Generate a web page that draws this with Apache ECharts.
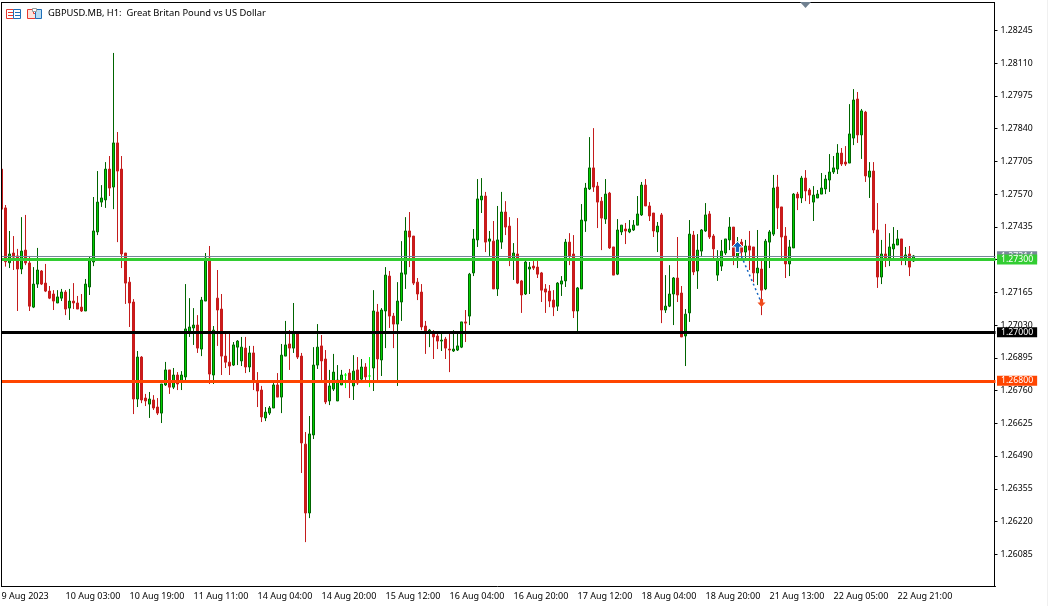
<!DOCTYPE html>
<html>
<head>
<meta charset="utf-8">
<title>GBPUSD.MB H1</title>
<style>
  html, body { margin: 0; padding: 0; background: #fff; }
  #main { width: 1048px; height: 606px; }
</style>
<script src="https://cdn.jsdelivr.net/npm/echarts@6/dist/echarts.min.js"></script>
</head>
<body>
<div id="main"></div>
<script>
// prices in points (1 point = 0.00001), one row = 16 hourly bars
const opens = [
  127673,127513,127287,127327,127315,127261,127339,127286,127104,127199,127253,127203,127170,127158,127121,127141,
  127166,127100,127129,127121,127104,127088,127187,127290,127414,127537,127546,127673,127599,127781,127673,127327,
  127207,127125,126725,126898,126729,126704,126721,126692,126667,126783,126845,126774,126824,126795,126816,127001,
  127018,127030,126931,127129,127306,126824,127141,127096,126902,126877,126865,126939,126882,126935,126857,126915,
  126795,126762,126647,126667,126688,126783,126733,126902,126952,126935,126997,126902,126539,126255,126577,126865,
  126944,126890,126717,126766,126717,126783,126824,126832,126779,126845,126807,126857,126820,126853,127084,126886,
  127088,127232,127067,127034,127125,127240,127418,127397,127207,127166,127026,127005,127001,126985,126964,126972,
  126931,126923,126927,126939,127043,127067,127245,127381,127546,127562,127376,127376,127179,127372,127496,127438,
  127298,127323,127212,127158,127261,127273,127269,127245,127179,127170,127133,127108,127199,127212,127372,127323,
  127088,127179,127459,127591,127678,127603,127541,127467,127574,127352,127240,127414,127426,127414,127422,127442,
  127484,127607,127521,127492,127414,127484,127092,127108,127158,127224,127162,126985,127080,127401,127253,127335,
  127418,127488,127397,127236,127273,127327,127381,127434,127310,127372,127331,127356,127352,127245,127261,127179,
  127372,127405,127599,127517,127397,127282,127348,127570,127554,127636,127587,127537,127554,127570,127591,127628,
  127661,127673,127739,127702,127698,127801,127962,127814,127908,127640,127665,127422,127228,127323,127306,127344,
  127360,127385,127306,127323,127294
];
const closes = [
  127508,127291,127323,127310,127261,127335,127286,127108,127199,127257,127199,127170,127141,127129,127146,127166,
  127096,127129,127121,127096,127088,127199,127298,127418,127537,127554,127673,127595,127781,127665,127323,127203,
  127121,126725,126898,126721,126717,126725,126688,126667,126787,126845,126774,126824,126787,126824,127014,127022,
  127030,126935,127133,127306,126828,127009,127092,126902,126877,126861,126948,126964,126939,126857,126915,126795,
  126758,126651,126671,126688,126783,126733,126906,126948,126935,127001,126898,126544,126255,126581,126865,126939,
  126882,126713,126779,126836,126803,126824,126824,126803,126840,126791,126857,126816,126820,127088,126890,127092,
  127236,127067,127034,127129,127245,127418,127393,127203,127158,127022,127005,127009,126981,126964,126968,126935,
  126927,126931,126944,127043,127038,127240,127385,127550,127562,127372,127385,127179,127381,127496,127434,127306,
  127327,127203,127154,127290,127269,127265,127240,127174,127166,127129,127104,127203,127212,127372,127315,127088,
  127183,127463,127595,127678,127599,127537,127471,127570,127348,127236,127422,127442,127418,127426,127442,127488,
  127607,127521,127480,127418,127438,127092,127108,127158,127224,127154,126981,127075,127405,127249,127339,127422,
  127484,127393,127344,127302,127335,127385,127434,127315,127372,127331,127356,127339,127245,127265,127174,127376,
  127414,127595,127513,127393,127282,127352,127570,127554,127636,127583,127566,127566,127570,127595,127632,127661,
  127678,127739,127694,127694,127818,127958,127814,127913,127645,127665,127422,127228,127323,127306,127352,127364,
  127385,127306,127319,127269,127315
];
const highs = [
  127673,127525,127418,127397,127344,127475,127484,127315,127269,127348,127257,127282,127191,127174,127174,127179,
  127174,127179,127203,127150,127158,127220,127311,127558,127665,127607,127702,127727,128152,127826,127727,127327,
  127228,127137,126923,126902,126746,126754,126741,126729,126787,126878,126845,126853,126836,126840,127199,127141,
  127100,127071,127146,127327,127356,127026,127257,127158,127002,126997,126960,126968,126981,126981,126944,126944,
  126836,126779,126692,126696,126795,126832,126952,127047,127009,127121,127005,126915,126589,126655,126939,127034,
  126989,126927,126845,126911,126865,126845,126832,126849,126906,126898,126890,126873,126898,127174,127117,127100,
  127269,127253,127080,127207,127376,127475,127496,127397,127224,127199,127047,127014,127009,127001,127001,126981,
  126997,127009,126997,127043,127092,127245,127426,127632,127636,127579,127418,127459,127521,127579,127541,127475,
  127368,127471,127216,127298,127290,127294,127298,127249,127199,127195,127174,127207,127232,127385,127409,127401,
  127187,127529,127616,127805,127842,127620,127558,127632,127579,127352,127467,127442,127451,127463,127463,127562,
  127620,127632,127537,127492,127455,127492,127236,127277,127228,127393,127191,127096,127463,127418,127405,127426,
  127533,127500,127405,127339,127381,127385,127475,127434,127393,127385,127381,127418,127352,127422,127298,127385,
  127422,127649,127649,127517,127434,127381,127574,127579,127645,127669,127595,127603,127587,127657,127649,127735,
  127727,127776,127760,127768,127941,128003,127991,127921,127913,127702,127702,127533,127381,127447,127409,127434,
  127422,127385,127352,127356,127319
];
const lows = [
  127508,127271,127265,127257,127088,127240,127277,127088,127100,127183,127195,127166,127137,127092,127121,127129,
  127071,127051,127096,127096,127084,127088,127154,127273,127401,127517,127513,127562,127508,127372,127265,127117,
  127022,126663,126692,126708,126696,126647,126680,126659,126626,126779,126746,126766,126762,126762,126795,126981,
  126948,126915,126902,127129,126787,126787,126944,126824,126853,126824,126861,126865,126861,126832,126836,126762,
  126692,126630,126634,126659,126688,126733,126667,126902,126845,126915,126890,126420,126135,126234,126560,126849,
  126803,126704,126700,126758,126717,126783,126770,126729,126721,126783,126791,126803,126774,126758,126791,126820,
  126935,127018,126935,126779,127047,127179,127269,127195,127133,127009,126911,126939,126890,126931,126923,126890,
  126836,126919,126923,126935,126960,127030,127232,127352,127492,127331,127315,127179,127150,127344,127401,127273,
  127216,127199,127080,127154,127158,127257,127224,127125,127080,127104,127067,127088,127150,127187,127277,127059,
  127005,127179,127414,127587,127579,127430,127339,127447,127344,127236,127236,127401,127364,127409,127418,127442,
  127480,127521,127459,127393,127331,127038,127080,127104,127030,127125,126981,126861,127043,127236,127179,127315,
  127414,127385,127302,127212,127253,127319,127339,127277,127265,127298,127298,127257,127207,127195,127071,127174,
  127265,127397,127426,127306,127224,127232,127348,127504,127533,127541,127529,127459,127554,127570,127570,127579,
  127653,127653,127686,127686,127698,127772,127781,127715,127620,127554,127409,127183,127199,127269,127273,127306,
  127360,127277,127277,127232,127290
];

// every 16th bar carries a time label
const timeLabels = ['9 Aug 2023','10 Aug 03:00','10 Aug 19:00','11 Aug 11:00','14 Aug 04:00','14 Aug 20:00',
  '15 Aug 12:00','16 Aug 04:00','16 Aug 20:00','17 Aug 12:00','18 Aug 04:00','18 Aug 20:00',
  '21 Aug 13:00','22 Aug 05:00','22 Aug 21:00'];
const barsPerLabel = 16;
const shiftBars = 20; // empty space right of the last bar

const priceTicks = [1.26085,1.26220,1.26355,1.26490,1.26625,1.26760,1.26895,1.27030,1.27165,1.27300,
  1.27435,1.27570,1.27705,1.27840,1.27975,1.28110,1.28245];

const lastPrice = 1.27314;
const levelGreen = 1.27300;
const levelBlack = 1.27000;
const levelOrange = 1.26800;

// entry and exit of the trade: bar index, price
const tradeFrom = [184, 1.27352];
const tradeTo = [190, 1.27121];

const candles = opens.map((o, i) => [o / 1e5, closes[i] / 1e5, lows[i] / 1e5, highs[i] / 1e5]);
const categories = [];
for (let i = 0; i < opens.length + shiftBars; i++) {
  categories.push(i % barsPerLabel === 0 ? (timeLabels[i / barsPerLabel] || '') : String(i));
}
const hasLabel = idx => idx % barsPerLabel === 0 && idx < opens.length;

const axisFont = 'Noto Sans';

function level(value, color) {
  return {
    yAxis: value,
    lineStyle: { color: color, width: 3, type: 'solid' },
    label: {
      show: true, position: 'end', distance: 1.5,
      formatter: value.toFixed(5),
      color: '#fff', backgroundColor: color,
      fontFamily: axisFont, fontSize: 8.7, lineHeight: 10,
      padding: [0, 4, 0, 4]
    }
  };
}
const lastLine = level(lastPrice, '#778899');
lastLine.lineStyle.width = 1;

const chart = echarts.init(document.getElementById('main'));
chart.setOption({
  animation: false,
  backgroundColor: '#fff',
  title: {
    text: 'GBPUSD.MB, H1:  Great Britan Pound vs US Dollar',
    left: 48, top: 9, padding: 0,
    textStyle: { fontFamily: axisFont, fontSize: 9.35, fontWeight: 'normal', color: '#000' }
  },
  grid: { left: -0.5, top: 2.5, width: 996, height: 584, outerBoundsMode: 'none' },
  xAxis: {
    type: 'category',
    data: categories,
    axisLine: { lineStyle: { color: '#000', width: 1 } },
    axisTick: { alignWithLabel: true, length: 4, interval: hasLabel, lineStyle: { color: '#000' } },
    axisLabel: {
      interval: hasLabel, hideOverlap: false, align: 'left', margin: 5,
      color: '#000', fontFamily: axisFont, fontSize: 9
    },
    splitLine: { show: false }
  },
  yAxis: {
    type: 'value',
    position: 'right',
    offset: -1,
    min: 1.25952,
    max: 1.2836,
    axisLine: { show: true, lineStyle: { color: '#000', width: 1 } },
    axisTick: { show: true, length: 3, lineStyle: { color: '#000' }, customValues: priceTicks },
    axisLabel: {
      customValues: priceTicks, margin: 6,
      formatter: v => v.toFixed(5),
      color: '#000', fontFamily: axisFont, fontSize: 8.7
    },
    splitLine: { show: false }
  },
  series: [
    {
      type: 'candlestick',
      data: candles,
      barWidth: 2,
      itemStyle: {
        color: '#00d000', color0: '#d01a1a',
        borderColor: '#006400', borderColor0: '#c41c1c',
        borderColorDoji: '#00ff00', borderWidth: 1
      }
    },
    {
      type: 'line',
      silent: true,
      z: 6,
      showAllSymbol: true,
      data: [
        { value: tradeFrom, symbol: 'path://M0,-5 L5,0 L2,0 L2,5 L-2,5 L-2,0 L-5,0 Z', symbolSize: 11,
          itemStyle: { color: '#1565c0', borderColor: '#fff', borderWidth: 1 } },
        { value: tradeTo, symbol: 'path://M-2,-4 L2,-4 L2,0 L5,0 L0,5 L-5,0 L-2,0 Z', symbolSize: 8,
          itemStyle: { color: '#f04a1c', borderWidth: 0 } }
      ],
      lineStyle: { color: '#1565c0', width: 1.5, type: [2, 3] },
      markLine: {
        silent: true, symbol: 'none', animation: false, precision: 5,
        data: [lastLine, level(levelGreen, '#32cd32'), level(levelBlack, '#000000'), level(levelOrange, '#ff4500')]
      }
    }
  ],
  graphic: [
    // left and top frame of the terminal window
    { type: 'rect', shape: { x: 0, y: 0, width: 1, height: 587 }, style: { fill: '#fff' }, z: 20 },
    { type: 'rect', shape: { x: 1, y: 2, width: 1, height: 585 }, style: { fill: '#000' }, z: 20 },
    { type: 'rect', shape: { x: 1, y: 2, width: 994, height: 1 }, style: { fill: '#000' }, z: 20 },
    { type: 'rect', shape: { x: 1047, y: 0, width: 1, height: 606 }, style: { fill: '#f0f0f0' }, z: 20 },
    // shift marker
    { type: 'polygon', shape: { points: [[800, 2], [811, 2], [805.5, 8]] }, style: { fill: '#708090' }, z: 21 },
    // toolbar icons
    { type: 'rect', shape: { x: 6.5, y: 9.5, width: 7, height: 9 }, style: { fill: '#fff', stroke: '#e8392e' }, z: 21 },
    { type: 'rect', shape: { x: 13.5, y: 9.5, width: 7, height: 9 }, style: { fill: '#fff', stroke: '#1e6fb8' }, z: 21 },
    { type: 'polyline', shape: { points: [[8, 12.5], [13, 12.5]] }, style: { stroke: '#e8392e' }, z: 22 },
    { type: 'polyline', shape: { points: [[8, 15.5], [13, 15.5]] }, style: { stroke: '#e8392e' }, z: 22 },
    { type: 'polyline', shape: { points: [[15, 12.5], [20, 12.5]] }, style: { stroke: '#1e6fb8' }, z: 22 },
    { type: 'polyline', shape: { points: [[15, 15.5], [20, 15.5]] }, style: { stroke: '#1e6fb8' }, z: 22 },
    { type: 'polygon', shape: { points: [[27.5, 9.5], [33.5, 9.5], [33.5, 13.5], [35.5, 13.5], [35.5, 18.5], [27.5, 18.5]] },
      style: { fill: '#fde3dc', stroke: '#e8392e' }, z: 21 },
    { type: 'polygon', shape: { points: [[35.5, 9.5], [41.5, 9.5], [41.5, 18.5], [35.5, 18.5]] },
      style: { fill: '#b9dcf2', stroke: '#1e6fb8' }, z: 21 },
    { type: 'rect', shape: { x: 32.5, y: 8.5, width: 4, height: 3 }, style: { fill: '#fff', stroke: '#999' }, z: 22 }
  ]
});

window.addEventListener('resize', function () {
  chart.resize();
});
</script>
</body>
</html>
